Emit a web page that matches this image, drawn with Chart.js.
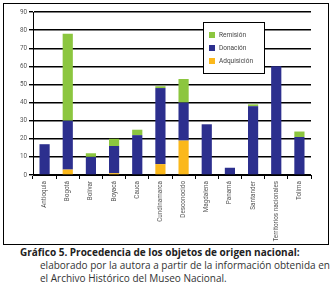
<!DOCTYPE html>
<html>
<head>
<meta charset="utf-8">
<script src="https://cdn.jsdelivr.net/npm/chart.js@4"></script>
<style>
  body { margin: 0; background: #fff; width: 331px; height: 290px; position: relative; font-family: "Open Sans", "DejaVu Sans", sans-serif; }
  #frame { position: absolute; left: 3px; top: 3px; width: 324px; height: 240px; border: 1px solid #000; }
  #chart { position: absolute; left: 0; top: 0; }
  #caption { position: absolute; left: 20px; top: 245px; color: #333; }
  #caption .title { font-weight: bold; font-size: 10px; line-height: 14px; color: #222; white-space: nowrap; }
  #caption .body { font-size: 10px; margin-left: 20px; line-height: 13px; white-space: nowrap; }
</style>
</head>
<body>
<div id="frame"><canvas id="chart" width="324" height="240"></canvas></div>
<div id="caption">
  <div class="title">Gráfico 5. Procedencia de los objetos de origen nacional:</div>
  <div class="body">elaborado por la autora a partir de la información obtenida en<br>el Archivo Histórico del Museo Nacional.</div>
</div>
<script>
const categories = ["Antioquia", "Bogotá", "Bolívar", "Boyacá", "Cauca", "Cundinamarca",
  "Desconocido", "Magdalena", "Panamá", "Santander", "Territorios nacionales", "Tolima"];
const adquisicion = [0, 3, 0, 1, 0, 6, 19, 0, 0, 0, 0, 0];
const donacion = [17, 27, 10, 15, 22, 42, 21, 28, 4, 38, 60, 21];
const remision = [0, 48, 2, 4, 3, 1, 13, 0, 0, 1, 0, 3];
const yTicks = [0, 10, 20, 30, 40, 50, 60, 70, 80, 90];

const legendOrder = ["Remisión", "Donación", "Adquisición"];

// legend drawn inside the plot as a boxed list
const boxLegend = {
  id: "boxLegend",
  afterDraw(chart) {
    const ctx = chart.ctx;
    const x = 199, y = 18, w = 61, h = 51;
    ctx.save();
    ctx.fillStyle = "#fff";
    ctx.fillRect(x, y, w, h);
    ctx.strokeStyle = "#000";
    ctx.lineWidth = 1;
    ctx.strokeRect(x + 0.5, y + 0.5, w, h);
    ctx.font = "6.5px Roboto, sans-serif";
    ctx.textBaseline = "middle";
    legendOrder.forEach((label, i) => {
      const ds = chart.data.datasets.find((d) => d.label === label);
      const cy = y + 13 + i * 13;
      ctx.fillStyle = ds.backgroundColor;
      ctx.fillRect(x + 6, cy - 3, 6, 6);
      ctx.fillStyle = "#444";
      ctx.fillText(label, x + 16, cy);
    });
    ctx.restore();
  },
};

new Chart(document.getElementById("chart"), {
  type: "bar",
  data: {
    labels: categories,
    datasets: [
      { label: "Adquisición", data: adquisicion, backgroundColor: "#fbb81b" },
      { label: "Donación", data: donacion, backgroundColor: "#2c2f8e" },
      { label: "Remisión", data: remision, backgroundColor: "#8cc63f" },
    ],
  },
  options: {
    responsive: false,
    animation: false,
    categoryPercentage: 1,
    barPercentage: 0.44,
    layout: { padding: { top: 8, right: 17, bottom: 0, left: 0 } },
    plugins: { legend: { display: false }, tooltip: { enabled: false } },
    scales: {
      x: {
        stacked: true,
        afterFit: (scale) => { scale.height = 69; },
        border: { color: "#000", width: 1 },
        grid: { drawOnChartArea: false, color: "#000", tickLength: 4 },
        ticks: { color: "#555", font: { size: 6.3, family: "Roboto" }, minRotation: 90, maxRotation: 90, padding: 2, autoSkip: false },
      },
      y: {
        stacked: true,
        min: 0,
        max: 90,
        afterFit: (scale) => { scale.width = 29; },
        afterBuildTicks: (scale) => { scale.ticks = yTicks.map((v) => ({ value: v })); },
        border: { color: "#000", width: 1 },
        grid: { color: "#000", lineWidth: 1.4, tickLength: 4 },
        ticks: { color: "#555", font: { size: 6.3, family: "Roboto" }, padding: 2 },
      },
    },
  },
  plugins: [boxLegend],
});
</script>
</body>
</html>
